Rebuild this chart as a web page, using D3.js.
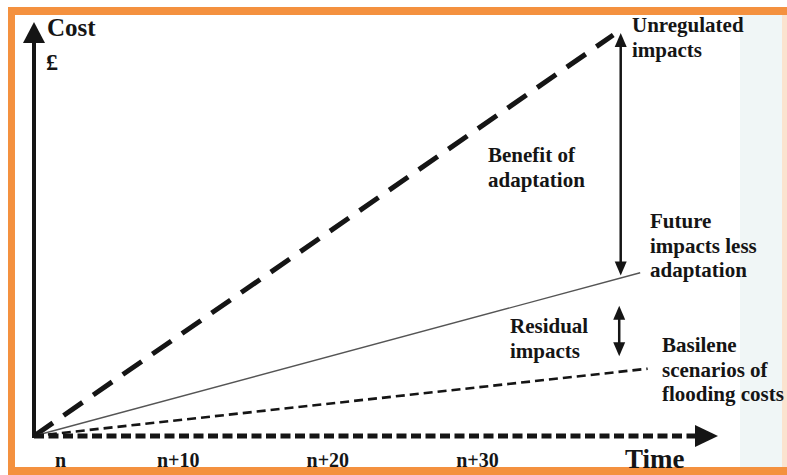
<!DOCTYPE html>
<html><head><meta charset="utf-8">
<script src="https://cdn.jsdelivr.net/npm/d3@7/dist/d3.min.js"></script>
<style>html,body{margin:0;padding:0;background:#fff;}svg{display:block;}</style>
</head><body>
<script>
// ---- data ----
const tickValues = [0, 10, 20, 30];
const tickLabels = ["n", "n+10", "n+20", "n+30"];
const seriesNames = ["Unregulated impacts", "Future impacts less adaptation", "Basilene scenarios of flooding costs"];
const seriesEndTime = [38.7, 40.5, 41.0];
const seriesEndCost = [99.5, 40.5, 16.7];
const benefitArrow = { time: 39.2, from: 100, to: 39.8 };
const residualArrow = { time: 39.1, from: 32.3, to: 19.8 };
const axisMax = { time: 45.7, cost: 102.5 };

const W = 787, H = 475;
const svg = d3.select("body").append("svg").attr("width", W).attr("height", H);

// frame
svg.append("rect").attr("x", 0).attr("y", 0).attr("width", W).attr("height", H).attr("fill", "#fff");
svg.append("rect").attr("x", 740).attr("y", 15).attr("width", 42).attr("height", 452).attr("fill", "#f0f6f6");
svg.append("rect").attr("x", 782).attr("y", 15).attr("width", 5).attr("height", 452).attr("fill", "#fbe3cf");
svg.append("rect").attr("x", 8).attr("y", 7).attr("width", W - 8).attr("height", 8).attr("fill", "#f4913f");
svg.append("rect").attr("x", 8).attr("y", 7).attr("width", 7).attr("height", H - 7).attr("fill", "#f4913f");
svg.append("rect").attr("x", 8).attr("y", 467).attr("width", W - 8).attr("height", 8).attr("fill", "#f4913f");

// scales
const x = d3.scaleLinear().domain([0, axisMax.time]).range([34, 718]);
const y = d3.scaleLinear().domain([0, 100]).range([436, 33]);
const ink = "#151515";

// series lines
const line = d3.line().x(d => x(d[0])).y(d => y(d[1]));
const styles = [
  { w: 5, dash: "23,13", color: ink },
  { w: 1.4, dash: null, color: "#555" },
  { w: 2.6, dash: "9,5", color: ink }
];
seriesNames.forEach((name, i) => {
  svg.append("path")
    .datum([[0, 0], [seriesEndTime[i], seriesEndCost[i]]])
    .attr("d", line)
    .attr("fill", "none")
    .attr("stroke", styles[i].color)
    .attr("stroke-width", styles[i].w)
    .attr("stroke-dasharray", styles[i].dash)
    .attr("aria-label", name);
});

// y axis (solid with arrow)
svg.append("line").attr("x1", x(0)).attr("x2", x(0)).attr("y1", y(0) + 2).attr("y2", 42)
  .attr("stroke", ink).attr("stroke-width", 4);
svg.append("path").attr("d", `M${x(0)},22 L${x(0) - 11},43 L${x(0) + 11},43 Z`).attr("fill", ink);

// x axis (dashed with arrow)
svg.append("line").attr("x1", x(0)).attr("x2", 697).attr("y1", y(0)).attr("y2", y(0))
  .attr("stroke", ink).attr("stroke-width", 5).attr("stroke-dasharray", "10,4.5");
svg.append("path").attr("d", `M${x(axisMax.time)},${y(0)} L695,${y(0) - 11} L695,${y(0) + 11} Z`).attr("fill", ink);

// tick labels via axis
const axis = d3.axisBottom(x).tickValues(tickValues)
  .tickFormat((d, i) => tickLabels[i]).tickSize(0).tickPadding(0);
const gAxis = svg.append("g").attr("transform", `translate(0,452)`).call(axis);
gAxis.select(".domain").remove();
gAxis.selectAll("text")
  .attr("font-family", "'Liberation Serif', 'Times New Roman', serif")
  .attr("font-weight", "bold").attr("font-size", 20).attr("fill", ink)
  .attr("dy", "0.75em")
  .attr("dx", (d, i) => i === 0 ? 26 : -6);

// double-ended arrows
function vArrow(a, hw, hl) {
  const xx = x(a.time), y1 = y(a.from), y2 = y(a.to);
  svg.append("line").attr("x1", xx).attr("x2", xx).attr("y1", y1 + hl - 2).attr("y2", y2 - hl + 2)
    .attr("stroke", ink).attr("stroke-width", 2.5);
  svg.append("path").attr("d", `M${xx},${y1} L${xx - hw},${y1 + hl} L${xx + hw},${y1 + hl} Z`).attr("fill", ink);
  svg.append("path").attr("d", `M${xx},${y2} L${xx - hw},${y2 - hl} L${xx + hw},${y2 - hl} Z`).attr("fill", ink);
}
vArrow(benefitArrow, 6, 14);
vArrow(residualArrow, 6, 14);

// text labels
const labels = [
  { lines: ["Cost"], x: 47, y: 36, size: 25 },
  { lines: ["£"], x: 46, y: 70, size: 24 },
  { lines: ["Unregulated", "impacts"], x: 632, y: 32, size: 21 },
  { lines: ["Benefit of", "adaptation"], x: 488, y: 162, size: 21 },
  { lines: ["Future", "impacts less", "adaptation"], x: 650, y: 228, size: 21 },
  { lines: ["Residual", "impacts"], x: 510, y: 333, size: 21 },
  { lines: ["Basilene", "scenarios of", "flooding costs"], x: 662, y: 352, size: 21 },
  { lines: ["Time"], x: 625, y: 468, size: 27 }
];
labels.forEach(l => {
  const t = svg.append("text").attr("x", l.x).attr("y", l.y)
    .attr("font-family", "'Liberation Serif', 'Times New Roman', serif")
    .attr("font-weight", "bold").attr("font-size", l.size).attr("fill", ink);
  l.lines.forEach((s, i) => t.append("tspan").attr("x", l.x).attr("dy", i === 0 ? 0 : 24.5).text(s));
});
</script>
</body></html>
